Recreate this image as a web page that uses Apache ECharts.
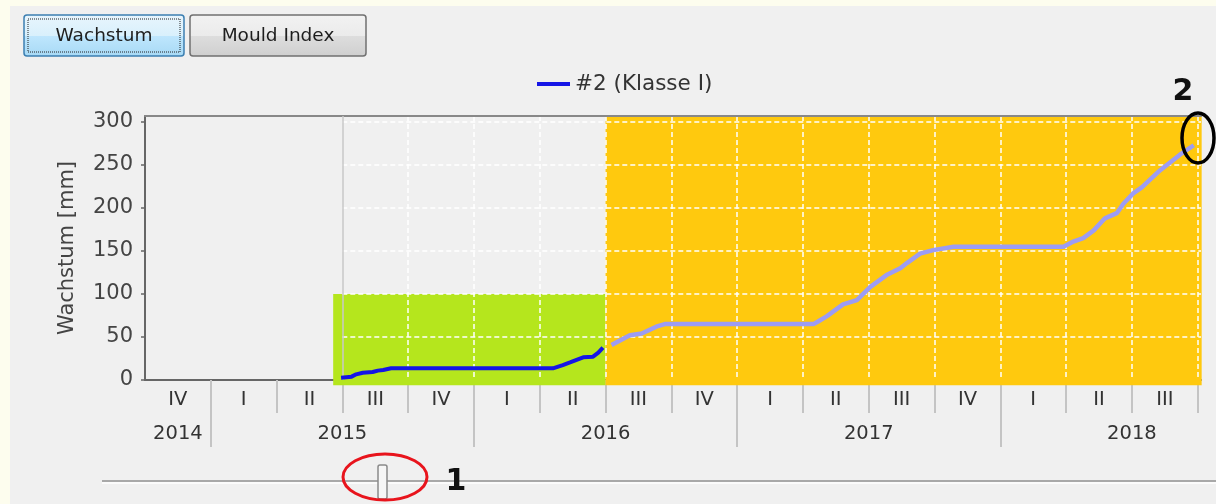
<!DOCTYPE html>
<html>
<head>
<meta charset="utf-8">
<title>Wachstum</title>
<script src="https://cdn.jsdelivr.net/npm/echarts@6.0.0/dist/echarts.min.js"></script>
<style>
  html, body { margin: 0; padding: 0; background: #f0f0f0; }
  #chart { width: 1216px; height: 504px; }
</style>
</head>
<body>
<div id="chart"></div>
<script>
// x axis runs in quarters, 0 = start of Q4 2014
var quarterLabels  = ['IV', 'I', 'II', 'III', 'IV', 'I', 'II', 'III', 'IV', 'I', 'II', 'III', 'IV', 'I', 'II', 'III'];
var quarterBounds  = [1, 2, 3, 4, 5, 6, 7, 8, 9, 10, 11, 12, 13, 14, 15, 16];
var quarterCenters = [0.5, 1.5, 2.5, 3.5, 4.5, 5.5, 6.5, 7.5, 8.5, 9.5, 10.5, 11.5, 12.5, 13.5, 14.5, 15.5];
var yearLabels     = ['2014', '2015', '2016', '2017', '2018'];
var yearLabelPos   = [0.5, 3, 7, 11, 15];
var yearBounds     = [1, 5, 9, 13];
var yTicks         = [0, 50, 100, 150, 200, 250, 300];
var gridValues     = [50, 100, 150, 200, 250, 300];
var gridQuarters   = [4, 5, 6, 7, 8, 9, 10, 11, 12, 13, 14, 15, 16];

var seriesName = '#2 (Klasse I)';

// Q3 2015 .. Q3 2016  (dark line)
var measured = [
    [2.98, 2.7], [3.14, 3.9], [3.21, 6.6], [3.31, 8.5], [3.46, 9.3], [3.54, 10.9],
    [3.62, 11.6], [3.74, 13.6], [6.20, 13.6], [6.35, 17.4], [6.46, 20.5], [6.66, 26.4],
    [6.81, 27.1], [6.89, 31.8], [6.96, 37.6]
];
// Q3 2016 .. Q3 2018  (light line)
var forecast = [
    [7.09, 40.7], [7.37, 52], [7.55, 54], [7.77, 62], [7.90, 65], [10.16, 65],
    [10.23, 68], [10.36, 74], [10.61, 88], [10.82, 93], [11.02, 108], [11.27, 122],
    [11.48, 130], [11.58, 136], [11.78, 147], [11.98, 151], [12.29, 155], [13.96, 155],
    [14.11, 161], [14.26, 165], [14.42, 174], [14.59, 188], [14.77, 194], [14.87, 205],
    [15.02, 217], [15.15, 224], [15.43, 244], [15.73, 262], [15.94, 273]
];

// painted zones: [x0, x1, y0, y1]
var greenZone  = [2.86, 7, -6, 100];
var orangeZone = [7, 16.06, -6, 307];
var startMarker = 3;

var xMax = 16.05;
var yMax = 307;
var font = 'DejaVu Sans';

var myChart = echarts.init(document.getElementById('chart'));

function zoneItem(params, api) {
    var p0 = api.coord([api.value(0), api.value(3)]);
    var p1 = api.coord([api.value(1), api.value(2)]);
    return {
        type  : 'rect',
        shape : { x: p0[0], y: p0[1], width: p1[0] - p0[0], height: p1[1] - p0[1] },
        style : { fill: params.dataIndex === 0 ? '#b5e61d' : '#ffc90e' }
    };
}

function button(x, w, text, selected) {
    var fill = selected
        ? { type: 'linear', x: 0, y: 0, x2: 0, y2: 1, colorStops: [
              { offset: 0, color: '#e8f5fd' }, { offset: 0.5, color: '#d9f0fc' },
              { offset: 0.52, color: '#bee6fd' }, { offset: 1, color: '#a7d9f5' } ] }
        : { type: 'linear', x: 0, y: 0, x2: 0, y2: 1, colorStops: [
              { offset: 0, color: '#f2f2f2' }, { offset: 0.5, color: '#ebebeb' },
              { offset: 0.52, color: '#dddddd' }, { offset: 1, color: '#cfcfcf' } ] };
    var children = [
        { type: 'rect', shape: { x: x, y: 15, width: w, height: 41, r: 3 },
          style: { fill: fill, stroke: selected ? '#3c7fb1' : '#707070', lineWidth: 1.5 } },
        { type: 'text', x: x + w / 2, y: 36,
          style: { text: text, font: '18.5px "DejaVu Sans"', fill: '#1e1e1e', align: 'center', verticalAlign: 'middle' } }
    ];
    if (selected) {
        children.push({ type: 'rect', shape: { x: x + 4, y: 19, width: w - 8, height: 33 },
            style: { fill: 'none', stroke: '#222', lineWidth: 1, lineDash: [1, 1] } });
    }
    return { type: 'group', children: children };
}

var option = {
    animation: false,
    backgroundColor: '#f0f0f0',
    legend: {
        data      : [seriesName],
        left      : 532,
        top       : 68,
        icon      : 'rect',
        itemWidth : 33,
        itemHeight: 4,
        textStyle : { fontFamily: font, fontSize: 21.5, color: '#333' }
    },
    grid: [
        { left: 145, right: 15, top: 116, bottom: 124 },
        { left: 342.3, right: 15, top: 116, bottom: 124 }
    ],
    xAxis: [
        {   // data axis, bottom line + quarters
            type: 'value', gridIndex: 0, min: 0, max: xMax, position: 'bottom', z: 0,
            axisLine : { show: true, onZero: false, lineStyle: { color: '#666', width: 2 } },
            axisTick : { show: true, customValues: quarterBounds, length: 33, lineStyle: { color: '#c4c4c4', width: 2 } },
            axisLabel: {
                customValues: quarterCenters, margin: 10,
                fontFamily: font, fontSize: 19.5, color: '#333',
                formatter: function (v) { return quarterLabels[Math.floor(v)]; }
            },
            splitLine: { show: false }
        },
        {   // years
            type: 'value', gridIndex: 0, min: 0, max: xMax, position: 'bottom', z: 0,
            axisLine : { show: false },
            axisTick : { show: true, customValues: yearBounds, length: 67, lineStyle: { color: '#c4c4c4', width: 2 } },
            axisLabel: {
                customValues: yearLabelPos, margin: 44,
                fontFamily: font, fontSize: 19.5, color: '#333',
                formatter: function (v) { return yearLabels[yearLabelPos.indexOf(v)]; }
            },
            splitLine: { show: false }
        },
        {   // top border
            type: 'value', gridIndex: 0, min: 0, max: xMax, position: 'top', z: 4,
            axisLine : { show: true, onZero: false, lineStyle: { color: '#888', width: 2 } },
            axisTick : { show: false }, axisLabel: { show: false }, splitLine: { show: false }
        },
        {   // grid lines
            type: 'value', gridIndex: 1, min: 3, max: xMax, z: 2,
            axisLine : { show: false },
            axisTick : { show: false, customValues: gridQuarters },
            axisLabel: { show: false },
            splitLine: { show: true, lineStyle: { color: '#ffffff', width: 1.5, type: [5, 3] } }
        }
    ],
    yAxis: [
        {
            type: 'value', gridIndex: 0, min: 0, max: yMax, position: 'left', z: 0,
            name: 'Wachstum [mm]', nameLocation: 'middle', nameGap: 67,
            nameTextStyle: { fontFamily: font, fontSize: 21, color: '#444' },
            axisLine : { show: true, onZero: false, lineStyle: { color: '#666', width: 2 } },
            axisTick : { show: true, customValues: yTicks, length: 4, lineStyle: { color: '#666', width: 1.5 } },
            axisLabel: { customValues: yTicks, margin: 12, fontFamily: font, fontSize: 21, color: '#444' },
            splitLine: { show: false }
        },
        {
            type: 'value', gridIndex: 1, min: 0, max: yMax, z: 2,
            axisLine : { show: false },
            axisTick : { show: false, customValues: gridValues },
            axisLabel: { show: false },
            splitLine: { show: true, lineStyle: { color: '#ffffff', width: 1.5, type: [5, 3] } }
        }
    ],
    series: [
        {
            name: 'start', type: 'line', xAxisIndex: 0, yAxisIndex: 0, z: 0,
            data: [], silent: true,
            markLine: {
                silent: true, symbol: ['none', 'none'], label: { show: false },
                lineStyle: { color: '#c8c8c8', width: 1.5, type: 'solid' },
                data: [{ xAxis: startMarker }]
            }
        },
        {
            name: 'zones', type: 'custom', xAxisIndex: 0, yAxisIndex: 0, z: 1,
            clip: false, silent: true,
            encode: { x: [0, 1], y: [2, 3] },
            data: [greenZone, orangeZone],
            renderItem: zoneItem
        },
        {
            name: seriesName, type: 'line', xAxisIndex: 0, yAxisIndex: 0, z: 5,
            data: measured, showSymbol: false, symbol: 'none',
            itemStyle: { color: '#1515e6' },
            lineStyle: { color: '#1515e6', width: 4 }
        },
        {
            name: 'Prognose', type: 'line', xAxisIndex: 0, yAxisIndex: 0, z: 5,
            data: forecast, showSymbol: false, symbol: 'none',
            itemStyle: { color: '#9c9cf4' },
            lineStyle: { color: '#9c9cf4', width: 4.5 }
        }
    ],
    graphic: [
        // pale window frame
        { type: 'rect', shape: { x: 0, y: 0, width: 1216, height: 6 }, style: { fill: '#fdfdee' } },
        { type: 'rect', shape: { x: 0, y: 0, width: 10, height: 504 }, style: { fill: '#fdfdee' } },
        button(24, 160, 'Wachstum', true),
        button(190, 176, 'Mould Index', false),
        // slider
        { type: 'line', shape: { x1: 102, y1: 481, x2: 1216, y2: 481 }, style: { stroke: '#a8a8a8', lineWidth: 2 } },
        { type: 'line', shape: { x1: 102, y1: 483, x2: 1216, y2: 483 }, style: { stroke: '#ffffff', lineWidth: 1.5 } },
        { type: 'rect', shape: { x: 378, y: 465, width: 9, height: 34, r: 2 },
          style: { fill: '#f6f6f6', stroke: '#8a8a8a', lineWidth: 1.5 } },
        // annotations
        { type: 'ellipse', z: 100, shape: { cx: 385, cy: 477, rx: 42, ry: 23 },
          style: { fill: 'none', stroke: '#e8141c', lineWidth: 3 } },
        { type: 'text', z: 100, x: 456, y: 482,
          style: { text: '1', font: 'bold 30px "DejaVu Sans"', fill: '#111', align: 'center', verticalAlign: 'middle' } },
        { type: 'ellipse', z: 100, shape: { cx: 1198, cy: 138, rx: 16, ry: 25 },
          style: { fill: 'none', stroke: '#000', lineWidth: 3.5 } },
        { type: 'text', z: 100, x: 1183, y: 92,
          style: { text: '2', font: 'bold 30px "DejaVu Sans"', fill: '#111', align: 'center', verticalAlign: 'middle' } }
    ]
};

if (option && typeof option === 'object') {
    myChart.setOption(option, true);
}
</script>
</body>
</html>
